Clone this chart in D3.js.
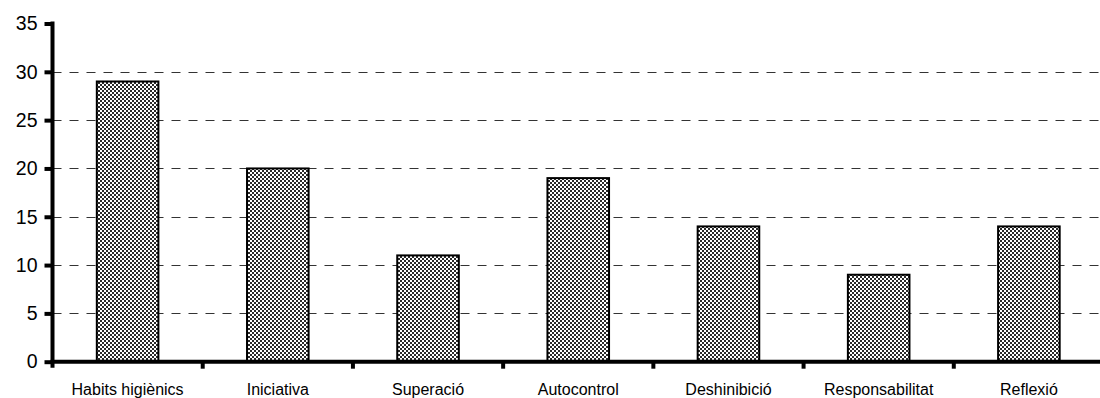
<!DOCTYPE html>
<html>
<head>
<meta charset="utf-8">
<script src="https://cdn.jsdelivr.net/npm/d3@7"></script>
<style>
  html, body { margin: 0; padding: 0; background: #fff; }
  svg { display: block; }
</style>
</head>
<body>
<svg id="chart" width="1100" height="398"></svg>
<script>
// Categories and counts
const categories = ["Habits higiènics", "Iniciativa", "Superació", "Autocontrol", "Deshinibició", "Responsabilitat", "Reflexió"];
const values = [29, 20, 11, 19, 14, 9, 14];
const yTicks = [0, 5, 10, 15, 20, 25, 30, 35];
const gridTicks = [5, 10, 15, 20, 25, 30];

const svg = d3.select("#chart");
const plotLeft = 52.5, plotRight = 1104, plotTop = 23.5, plotBottom = 361.7;

const x = d3.scaleBand().domain(categories).range([plotLeft, plotRight]).paddingInner(0.59).paddingOuter(0.295);
const xBounds = d3.scaleLinear().domain([0, categories.length]).range([plotLeft, plotRight]);
const y = d3.scaleLinear().domain([0, 35]).range([plotBottom, plotTop]);

// Checker dither fill for the bars
const defs = svg.append("defs");
const pat = defs.append("pattern").attr("id", "dither")
  .attr("patternUnits", "userSpaceOnUse").attr("width", 4).attr("height", 4);
pat.append("rect").attr("width", 4).attr("height", 4).attr("fill", "#fff");
pat.append("rect").attr("x", 0).attr("y", 0).attr("width", 2).attr("height", 2).attr("fill", "#2a2a2a");
pat.append("rect").attr("x", 2).attr("y", 2).attr("width", 2).attr("height", 2).attr("fill", "#2a2a2a");

// Dashed horizontal gridlines
svg.append("g").selectAll("line").data(gridTicks).join("line")
  .attr("x1", plotLeft).attr("x2", 1100)
  .attr("y1", d => Math.round(y(d)) + 0.5).attr("y2", d => Math.round(y(d)) + 0.5)
  .attr("stroke", "#333").attr("stroke-width", 1.2)
  .attr("stroke-dasharray", "9,8");

// Bars
svg.append("g").selectAll("rect").data(values).join("rect")
  .attr("x", (d, i) => x(categories[i]))
  .attr("y", d => y(d))
  .attr("width", x.bandwidth())
  .attr("height", d => plotBottom - y(d))
  .attr("fill", "url(#dither)")
  .attr("stroke", "#000").attr("stroke-width", 2);

// Y axis
const yAxis = d3.axisLeft(y).tickValues(yTicks).tickSize(8).tickPadding(7);
const gy = svg.append("g").attr("transform", `translate(${plotLeft},0)`).call(yAxis);
gy.select(".domain").remove();
gy.append("line").attr("x1", 0).attr("x2", 0).attr("y1", plotTop - 2).attr("y2", plotBottom + 6)
  .attr("stroke", "#000").attr("stroke-width", 4);
gy.selectAll(".tick line").attr("stroke", "#000").attr("stroke-width", 4);
gy.selectAll(".tick text")
  .attr("font-family", "'Liberation Sans', Arial, sans-serif")
  .attr("font-size", 19.5).attr("fill", "#000");

// X axis line with category boundary ticks
const boundaries = d3.range(1, categories.length);
const gx = svg.append("g").attr("transform", `translate(0,${plotBottom})`);
gx.append("line").attr("x1", plotLeft - 2).attr("x2", 1100).attr("y1", 0).attr("y2", 0)
  .attr("stroke", "#000").attr("stroke-width", 4);
gx.selectAll("line.tk").data(boundaries).join("line").attr("class", "tk")
  .attr("x1", d => xBounds(d)).attr("x2", d => xBounds(d))
  .attr("y1", 0).attr("y2", 7)
  .attr("stroke", "#000").attr("stroke-width", 4);
gx.selectAll("text").data(categories).join("text")
  .attr("x", d => x(d) + x.bandwidth() / 2)
  .attr("y", 33.5)
  .attr("text-anchor", "middle")
  .attr("font-family", "'Liberation Sans', Arial, sans-serif")
  .attr("font-size", 16).attr("fill", "#000")
  .text(d => d);
</script>
</body>
</html>
